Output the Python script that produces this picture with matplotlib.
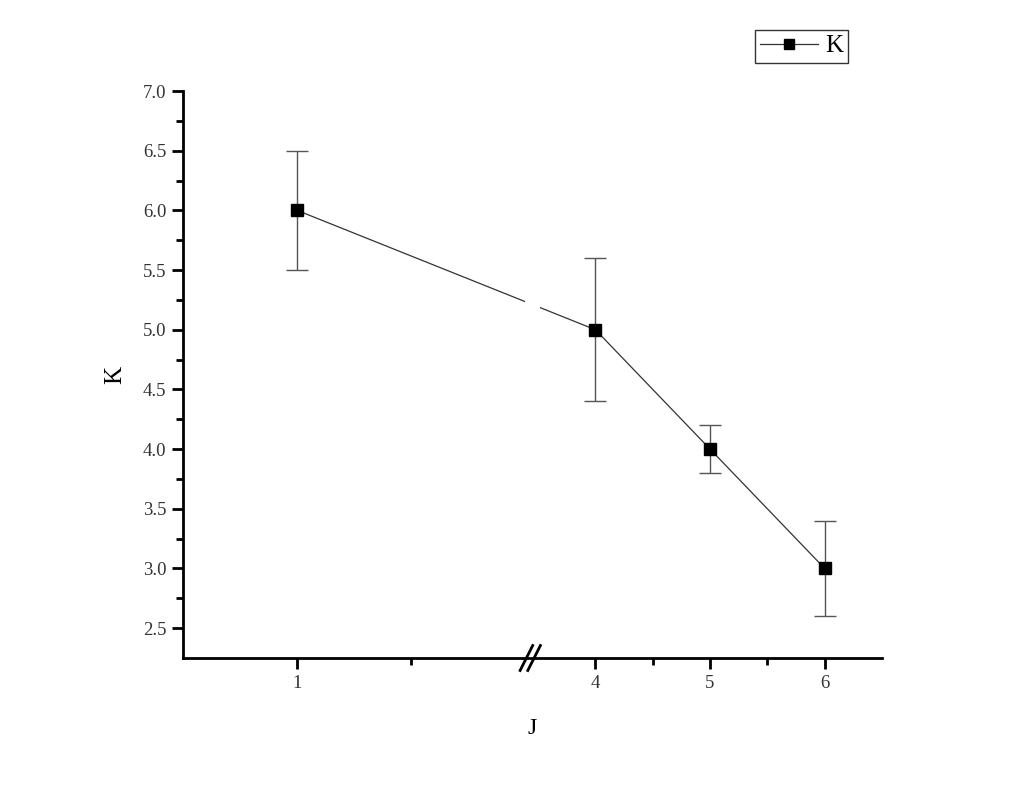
import numpy as np
import matplotlib
matplotlib.use("Agg")
import matplotlib.pyplot as plt
from matplotlib.lines import Line2D

# data
J = [1, 4, 5, 6]
K = [6.0, 5.0, 4.0, 3.0]
K_err = [0.5, 0.6, 0.2, 0.4]
x_major = [1, 4, 5, 6]
x_minor = [1.5, 4.5, 5.5]
y_major = [2.5, 3.0, 3.5, 4.0, 4.5, 5.0, 5.5, 6.0, 6.5, 7.0]
y_minor = [2.75, 3.25, 3.75, 4.25, 4.75, 5.25, 5.75, 6.25, 6.75]

plt.rcParams['font.family'] = ['Liberation Serif', 'DejaVu Serif']

# broken x-axis via piecewise-linear scale
XP = [0.5, 2.02, 3.45, 6.5]
UP = [0.0, 346.6, 349.0, 698.25]
def fwd(x):
    return np.interp(x, XP, UP)
def inv(u):
    return np.interp(u, UP, XP)

fig = plt.figure(figsize=(10.24, 7.9), dpi=100)
ax = fig.add_axes([183/1024, 1-658/790, 699/1024, (658-91)/790])
ax.set_xscale('function', functions=(fwd, inv))
ax.set_xlim(0.5, 6.5)
ax.set_ylim(2.25, 7.0)

ax.errorbar(J, K, yerr=K_err, color='#333333', lw=0.9, ecolor='#555555',
            elinewidth=1.0, capsize=8, capthick=1.0, marker='s', ms=8.5,
            mfc='black', mec='black', zorder=3)

# gap in the data line at the axis break
ax.axvspan(2.0, 3.52, ymin=0.6, ymax=0.8, color='white', zorder=3.5, lw=0)
for s in ['top', 'right']:
    ax.spines[s].set_visible(False)
for s in ['left', 'bottom']:
    ax.spines[s].set_linewidth(2)

ax.set_xticks(x_major)
ax.set_xticklabels([str(v) for v in x_major])
ax.set_xticks(x_minor, minor=True)
ax.set_yticks(y_major)
ax.set_yticklabels([f"{v:.1f}" for v in y_major])
ax.set_yticks(y_minor, minor=True)
ax.tick_params(which='major', direction='out', length=8, width=2,
               labelsize=13.5, labelcolor='#333333', pad=4)
ax.tick_params(which='minor', direction='out', length=5, width=2)

ax.set_xlabel('J', fontsize=17, labelpad=19)
ax.set_ylabel('K', fontsize=18, labelpad=12)

# axis break marks
bx = (532 - 183) / 699
for dx in (-0.011, 0.0):
    ax.add_line(Line2D([bx + dx - 0.006, bx + dx + 0.012], [-0.022, 0.022],
                       transform=ax.transAxes, color='black', lw=2,
                       clip_on=False, zorder=5))

handle = Line2D([], [], color='#333333', lw=0.9, marker='s', ms=7,
                mfc='black', mec='black')
leg = fig.legend([handle], ['K'], loc='upper left',
                 bbox_to_anchor=(755/1024, 1-30/790), frameon=True,
                 fancybox=False, edgecolor='black', fontsize=18,
                 handlelength=2.3, handletextpad=0.3, borderpad=0.2,
                 borderaxespad=0)
leg.get_frame().set_linewidth(1.0)

fig.savefig('out.png', dpi=100)
